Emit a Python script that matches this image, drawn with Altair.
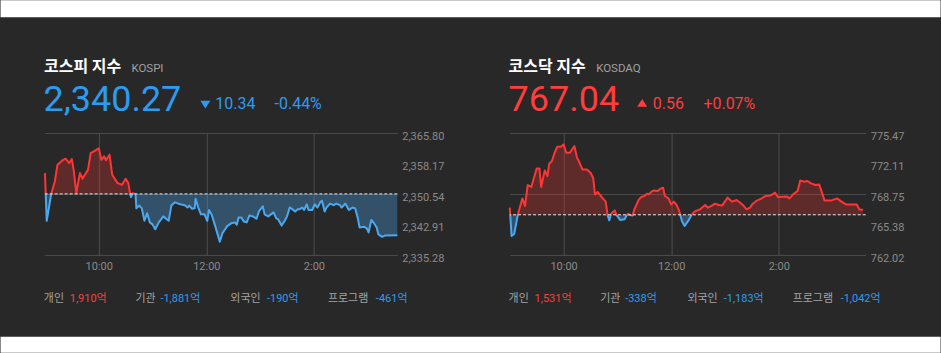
import altair as alt
import pandas as pd

# ---------------- data ----------------
kospi_minutes = [0, 2, 7, 11, 14, 19, 23, 27, 30, 32, 35, 39, 42, 44, 48, 51, 56, 60, 63, 66,
                 68, 72, 75, 81, 86, 90, 93, 95, 96, 98, 101, 102, 105, 108, 111, 114, 117, 120, 123, 127,
                 132, 138, 141, 145, 151, 156, 159, 161, 164, 167, 168, 171, 174, 178, 181, 183, 186, 190, 195, 198,
                 203, 208, 212, 214, 216, 219, 222, 225, 228, 232, 236, 239, 243, 245, 249, 255, 258, 260, 264, 268,
                 270, 273, 276, 279, 282, 284, 287, 289, 292, 294, 298, 301, 304, 307, 309, 312, 314, 318, 322, 325,
                 329, 331, 335, 339, 343, 346, 349, 351, 356, 359, 361, 364, 367, 370, 372, 376, 379, 393]
kospi_values = [2355.8, 2343.9, 2350.6, 2353.7, 2357.9, 2358.9, 2359.4, 2358.3, 2359.3, 2356.6,
                2350.8, 2355.8, 2354.4, 2355.2, 2356.6, 2360.8, 2361.4, 2362.0, 2359.1, 2360.0,
                2359.0, 2360.4, 2355.4, 2353.3, 2352.9, 2354.4, 2353.3, 2350.6, 2349.8, 2350.8,
                2350.6, 2347.0, 2347.7, 2347.0, 2343.9, 2345.8, 2343.5, 2343.0, 2341.8, 2343.5,
                2345.0, 2343.9, 2347.7, 2348.5, 2348.0, 2347.8, 2347.2, 2347.7, 2346.9, 2347.0,
                2349.4, 2347.2, 2345.5, 2345.5, 2343.9, 2346.6, 2345.4, 2342.5, 2338.7, 2340.8,
                2342.5, 2343.3, 2343.5, 2342.9, 2344.7, 2344.7, 2343.7, 2343.5, 2345.2, 2345.0,
                2344.4, 2346.4, 2347.5, 2345.5, 2345.0, 2346.0, 2344.5, 2344.3, 2342.7, 2344.1,
                2345.0, 2347.2, 2346.8, 2346.2, 2346.8, 2346.8, 2347.2, 2346.6, 2348.0, 2346.6,
                2346.6, 2348.0, 2347.2, 2348.5, 2348.9, 2346.2, 2347.2, 2348.2, 2347.8, 2348.2,
                2347.8, 2347.2, 2348.2, 2346.6, 2347.2, 2347.0, 2344.5, 2342.2, 2342.4, 2342.0,
                2341.0, 2344.1, 2343.3, 2342.2, 2340.5, 2339.9, 2340.2, 2340.27]

kosdaq_minutes = [0, 2, 5, 9, 14, 17, 20, 24, 30, 33, 35, 39, 42, 44, 47, 50, 53, 57, 60, 63,
                  67, 72, 75, 77, 81, 86, 90, 93, 95, 98, 103, 107, 109, 111, 113, 117, 119, 123, 128, 130,
                  132, 134, 137, 139, 144, 147, 150, 153, 155, 158, 161, 165, 168, 171, 173, 177, 180, 183, 186, 189,
                  192, 195, 199, 203, 206, 212, 218, 221, 225, 229, 233, 237, 243, 248, 253, 257, 260, 264, 268, 271,
                  275, 281, 285, 291, 296, 299, 304, 309, 312, 316, 321, 324, 328, 332, 336, 341, 345, 347, 351, 359,
                  365, 370, 375, 381, 387, 390, 394]
kosdaq_values = [767.26, 764.15, 764.40, 766.50, 768.28, 767.45, 769.75, 769.54, 771.58, 771.58,
                 769.54, 771.36, 770.74, 772.10, 772.39, 773.30, 773.96, 773.96, 774.22, 773.30,
                 773.30, 774.04, 772.76, 772.39, 771.47, 771.47, 771.11, 770.56, 768.72, 768.99,
                 768.36, 767.92, 766.46, 765.87, 766.60, 766.96, 766.46, 765.91, 765.98, 766.35,
                 766.60, 766.46, 766.40, 767.07, 768.17, 768.47, 768.55, 768.80, 768.72, 769.02,
                 769.16, 769.10, 769.35, 769.46, 768.55, 768.28, 767.62, 767.92, 767.56, 766.90,
                 765.80, 765.25, 765.80, 766.50, 766.82, 767.07, 767.56, 767.26, 767.45, 767.70,
                 767.56, 767.51, 768.36, 767.92, 768.11, 767.81, 767.56, 767.07, 767.26, 767.70,
                 768.00, 768.28, 768.55, 768.61, 768.91, 768.44, 768.47, 768.50, 768.28, 768.72,
                 769.10, 770.26, 770.12, 770.19, 769.93, 769.75, 769.82, 769.27, 768.06, 768.06,
                 768.28, 767.92, 767.62, 767.62, 767.62, 767.07, 767.04]

kospi_prev_close = 2350.61
kosdaq_prev_close = 766.48
kospi_y_ticks = [2335.28, 2342.91, 2350.54, 2358.17, 2365.80]
kosdaq_y_ticks = [762.02, 765.38, 768.75, 772.11, 775.47]
kospi_x_end = 393
kosdaq_x_end = 397
x_tick_minutes = [60, 180, 300]
x_tick_labels = ["10:00", "12:00", "2:00"]

index_names = ["코스피 지수", "코스닥 지수"]
index_codes = ["KOSPI", "KOSDAQ"]
index_close = [2340.27, 767.04]
index_change = [-10.34, 0.56]
index_pct = [-0.44, 0.07]

investor_labels = ["개인", "기관", "외국인", "프로그램"]
kospi_flows = [1910, -1881, -190, -461]
kosdaq_flows = [1531, -338, -1183, -1042]

# ---------------- style / layout ----------------
FONT = "Roboto, 'Noto Sans CJK KR', sans-serif"
KFONT = "'Noto Sans CJK KR', Roboto, sans-serif"
BG = "#282828"
GRID = "#4d4d4d"
AXIS_LABEL = "#8a8a8a"
TXT_RED = "#ff3d3d"
TXT_BLUE = "#2b9cf2"
LINE_RED = "#ff3535"
LINE_BLUE = "#4aa8f0"
FILL_RED = "rgba(255,51,51,0.25)"
FILL_BLUE = "rgba(74,168,240,0.32)"
PX_PER_MIN = 0.8975
PLOT_TOP = 133.0
PLOT_H = 122.4
CANVAS_W, CANVAS_H = 941, 353
WHITE_TOP, WHITE_BOTTOM = 17, 337

layouts = [
    dict(left=44.45, title=(43.5, 72), code=(131, 72), big=(43, 110.5), tri=(205, 104.5),
         chg=(215, 109.3), pct=(274.3, 109.3), lab_x=[43.3, 135, 230, 327.7],
         num_x=[69.3, 160, 266.7, 375.7], row_y=299),
    dict(left=509.5, title=(508.3, 72), code=(596, 72), big=(508.3, 110.5), tri=(642, 102.8),
         chg=(652.7, 109.3), pct=(703.3, 109.3), lab_x=[508.3, 600, 687.3, 792.7],
         num_x=[534.3, 625, 723.7, 840.7], row_y=299),
]

one = pd.DataFrame({"k": [0]})

TRI_DOWN = "M-1,-0.77L1,-0.77L0,0.77Z"
TRI_UP = "M-1,0.77L1,0.77L0,-0.77Z"


def label_expr(values, labels):
    expr = "''"
    for v, l in reversed(list(zip(values, labels))):
        expr = f"datum.value == {v} ? '{l}' : ({expr})"
    return expr


def panel(i, minutes, values, prev_close, y_ticks, x_end, flows, with_strips):
    L = layouts[i]
    ox, oy = L["left"], PLOT_TOP
    width = x_end * PX_PER_MIN
    df = pd.DataFrame({"m": minutes, "v": values})
    df["base"] = prev_close
    vmax, vmin = max(values), min(values)
    off = (vmax - prev_close) / (vmax - vmin)

    def grad(c_up, c_down):
        return alt.LinearGradient(
            gradient="linear", x1=0, x2=0, y1=0, y2=1,
            stops=[alt.GradientStop(offset=0, color=c_up),
                   alt.GradientStop(offset=off, color=c_up),
                   alt.GradientStop(offset=off, color=c_down),
                   alt.GradientStop(offset=1, color=c_down)])

    x = alt.X("m:Q", scale=alt.Scale(domain=[0, x_end], nice=False, zero=False),
              axis=alt.Axis(values=x_tick_minutes, labelExpr=label_expr(x_tick_minutes, x_tick_labels),
                            grid=True, gridColor=GRID, gridWidth=1, domain=False, ticks=False,
                            labelColor=AXIS_LABEL, labelFont=FONT, labelFontSize=11, labelPadding=5,
                            labelFlush=False, labelOverlap=False, title=None))
    y = alt.Y("v:Q", scale=alt.Scale(domain=[y_ticks[0], y_ticks[-1]], nice=False, zero=False),
              axis=alt.Axis(orient="right", values=y_ticks, grid=True, gridColor=GRID,
                            gridWidth=1, domain=False, ticks=False, labels=False, title=None))

    layers = []

    def txt(s, pos, size, color, font=FONT, weight="normal", baseline="alphabetic"):
        return alt.Chart(one).mark_text(text=s, fontSize=size, color=color, font=font, fontWeight=weight,
                                        baseline=baseline, align="left").encode(
            x=alt.value(pos[0] - ox), y=alt.value(pos[1] - oy))

    if with_strips:
        for top, bottom in [(0, WHITE_TOP), (WHITE_BOTTOM, CANVAS_H)]:
            layers.append(alt.Chart(one).mark_rect(color="white").encode(
                x=alt.value(-ox), x2=alt.value(CANVAS_W - ox),
                y=alt.value(top - oy), y2=alt.value(bottom - oy)))

    layers.append(alt.Chart(df).mark_area(fill=grad(FILL_RED, FILL_BLUE)).encode(x=x, y=y, y2="base:Q"))
    layers.append(alt.Chart(df).mark_line(stroke=grad(LINE_RED, LINE_BLUE), strokeWidth=2,
                                          strokeJoin="round").encode(x="m:Q", y="v:Q"))
    layers.append(alt.Chart(df.head(1)).mark_rule(color="#e8e8e8", strokeDash=[3, 2], strokeWidth=1)
                  .encode(y="base:Q"))

    # right-hand value labels, placed through the y scale
    tick_df = pd.DataFrame({"v": y_ticks, "lab": [f"{t:,.2f}" for t in y_ticks]})
    layers.append(alt.Chart(tick_df).mark_text(align="left", baseline="middle", dx=5, dy=3.5,
                                               fontSize=11, font=FONT, color=AXIS_LABEL).encode(
        x=alt.value(width), y="v:Q", text="lab:N"))

    up = index_change[i] > 0
    col = TXT_RED if up else TXT_BLUE
    layers.append(txt(index_names[i], L["title"], 16, "#ffffff", font=KFONT, weight="bold"))
    layers.append(txt(index_codes[i], L["code"], 11.5, "#a0a0a0"))
    layers.append(txt(f"{index_close[i]:,.2f}", L["big"], 36, col))
    layers.append(alt.Chart(one).mark_point(shape=TRI_UP if up else TRI_DOWN, filled=True, size=100,
                                            color=col, opacity=1, strokeWidth=0).encode(
        x=alt.value(L["tri"][0] - ox), y=alt.value(L["tri"][1] - oy)))
    layers.append(txt(f"{abs(index_change[i]):.2f}", L["chg"], 16, col))
    layers.append(txt(f"{index_pct[i]:+.2f}%", L["pct"], 16, col))

    for lab, fv, lx, nx in zip(investor_labels, flows, L["lab_x"], L["num_x"]):
        layers.append(txt(lab, (lx, L["row_y"]), 11, "#a3a3a3", font=KFONT, baseline="middle"))
        layers.append(txt(f"{fv:,}억", (nx, L["row_y"]), 11, TXT_RED if fv > 0 else TXT_BLUE,
                          baseline="middle"))

    return alt.layer(*layers).properties(width=width, height=PLOT_H)


p1 = panel(0, kospi_minutes, kospi_values, kospi_prev_close, kospi_y_ticks, kospi_x_end, kospi_flows, True)
p2 = panel(1, kosdaq_minutes, kosdaq_values, kosdaq_prev_close, kosdaq_y_ticks, kosdaq_x_end, kosdaq_flows, False)

spacing = layouts[1]["left"] - (layouts[0]["left"] + kospi_x_end * PX_PER_MIN)

chart = alt.hconcat(p1, p2, spacing=spacing, bounds="flush").properties(
    padding=0, background=BG, autosize=alt.AutoSizeParams(type="pad")
).configure_view(stroke=None)

chart.save("out.html", embed_options={"renderer": "svg", "actions": False})
